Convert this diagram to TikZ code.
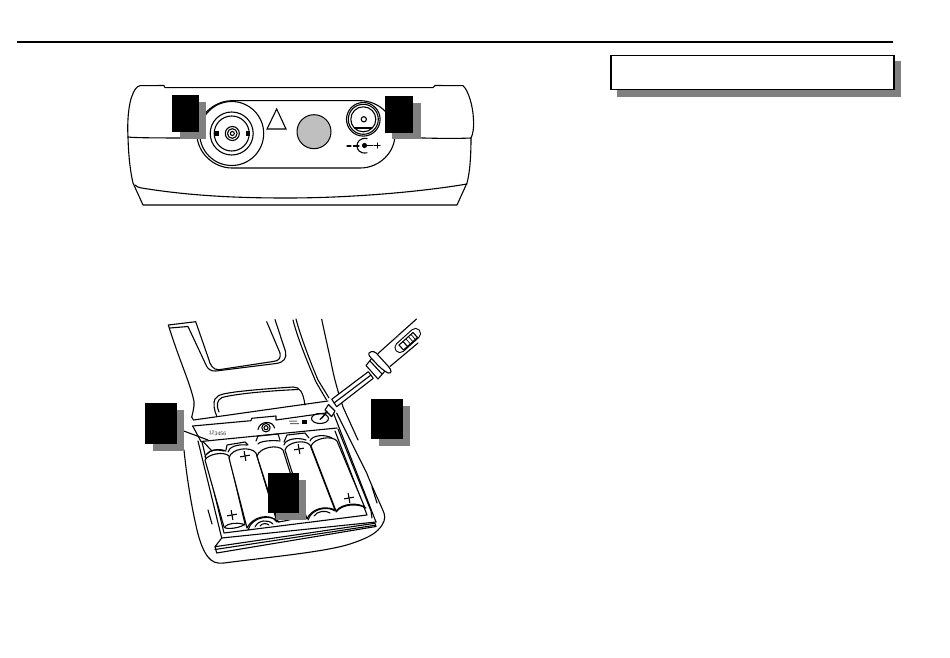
\documentclass[tikz,border=0pt]{standalone}
\usepackage{fontspec}
\setmainfont{Liberation Sans}
\definecolor{dropgray}{HTML}{808080}
\tikzset{
 ln/.style={draw=black,line width=1.1pt,line join=round,line cap=round,fill=none},
 thin ln/.style={draw=black,line width=0.7pt,line join=round,line cap=round,fill=none},
 wht/.style={draw=black,line width=1.1pt,line join=round,fill=white},
}
\newcommand{\plusmark}[2]{\draw[ln] (#1-4.5,#2+.8) -- (#1+4.5,#2-.8) (#1-.8,#2-4.5) -- (#1+.8,#2+4.5);}
\begin{document}
\begin{tikzpicture}[x=1pt,y=-1pt]
\useasboundingbox (0,0) rectangle (950,658);
\fill[white] (0,0) rectangle (950,658);
% header
\coordinate (ruleL) at (17,42); \coordinate (ruleR) at (893,42);
\draw[line width=1.3pt] (ruleL) -- (ruleR);
\fill[dropgray] (617,61.5) rectangle (901,97);
\node[draw=black,line width=1.5pt,fill=white,minimum width=283pt,minimum height=34pt,inner sep=0pt,anchor=north west] (titlebox) at (610,55) {};

% ---------- top view
\draw[ln] (164,85.5) -- (165,87.7) -- (433,87.7) -- (435,85.5) -- (463,85.7)
  .. controls (468,90) and (473,105) .. (473.5,120) .. controls (474,128) and (473,134) .. (471,138)
  .. controls (471,155) and (470,172) .. (467,183) -- (457,205)
  -- (143,205) -- (133,183)
  .. controls (130,170) and (128.5,155) .. (128,137)
  .. controls (127,120) and (129,103) .. (132,96) .. controls (134,90) and (137,86) .. (140,85.7) -- cycle;
\draw[ln] (128,137) .. controls (135,138) and (170,138) .. (197,138);
\draw[ln] (394,137) .. controls (420,138) and (450,139) .. (471,138);
\draw[ln] (135,185) .. controls (138,188) and (142,188) .. (148,189)
  .. controls (200,197) and (250,198) .. (287,198) .. controls (350,198) and (420,192) .. (467,184);
% panel
\draw[ln] (232,100.7) -- (360,100.7) .. controls (380,100.7) and (395,117) .. (395,134.5)
  .. controls (395,152) and (380,168) .. (360,168) -- (232,168)
  .. controls (213,168) and (197,152) .. (197,134.5) .. controls (197,117) and (213,100.7) .. (232,100.7);
\draw[ln] (231.7,133.5) circle[radius=32];
\draw[ln] (231.7,133.5) circle[radius=21.5];
\draw[ln] (231.7,133.5) circle[radius=17.5];
\draw[ln] (232.3,133.5) circle[radius=7];
\draw[ln] (232.3,133.5) circle[radius=4.8];
\draw[ln] (232.3,133.5) circle[radius=2];
\fill[black] (214,131) rectangle (218.5,136);
\fill[black] (245.5,131) rectangle (250,136);
\draw[line width=1.1pt,line join=miter] (267,129) -- (286,129) -- (276.7,109) -- cycle;
\node[circle,draw=black,line width=1pt,fill=black!25,minimum size=34pt,inner sep=0pt] (lamp) at (314,131.7) {};
\draw[ln] (363.3,119.3) circle[radius=16.8];
\draw[ln] (363.3,119.3) circle[radius=15];
\draw[ln] (363.3,119.3) circle[radius=12.5];
\draw[ln] (363.8,119.3) circle[radius=2.6];
\begin{scope}
\clip (363.3,119.3) circle[radius=12.5];
\fill[black] (350,127) rectangle (377,129.5);
\end{scope}
\draw[ln] (347,146) -- (351,146) (353.5,146) -- (359,146);
\draw[ln] (367,138.5) .. controls (360,137.5) and (357,142) .. (357,145.7) .. controls (357,150) and (360,154) .. (367,152.8);
\fill[black] (364.5,145.5) circle[radius=2.6];
\draw[ln] (364.5,145.5) -- (373,145.5);
\draw[ln] (374.5,145.5) -- (380,145.5) (377.3,143) -- (377.3,148);

% ---------- lid
\draw[ln] (191.7,417) .. controls (194,408) and (195,403) .. (193,397) .. controls (188,378) and (180,362) .. (168.3,325) -- (195.7,321.7)
  -- (208.3,358) .. controls (210,365) and (213,370) .. (219,369.7) -- (273,361.5) .. controls (279,361) and (281,358) .. (280,353) -- (266.7,321.7);
\draw[ln] (170,328) -- (188,326.5) -- (206.5,366) .. controls (208,369) and (211,371.5) .. (216,371) -- (276,363.5) .. controls (284,362.5) and (287,358) .. (285.5,351.5) -- (275,319.5);
\draw[ln] (293,320) .. controls (298,340) and (310,368) .. (316,382) -- (326.5,400);
\draw[ln] (296,319) .. controls (301,338) and (312,366) .. (318,380) -- (329,398);
\draw[ln] (321.7,319.3) .. controls (325,335) and (328,348) .. (331,362) .. controls (334,378) and (338,392) .. (343,407) -- (358,440);
% hinge
\draw[ln] (216.7,416) .. controls (214,410) and (213,403) .. (215,399) .. controls (218,394) and (226,393.5) .. (235,392) .. controls (260,389) and (280,388) .. (293,387) .. controls (300,387) and (303,392) .. (305,405);
\draw[ln] (219,412) .. controls (216,405) and (217,400) .. (222,397.5) .. controls (235,394) and (265,391) .. (298,389.5);
\draw[ln] (191.7,417) -- (193.5,420) -- (328,401);

% ---------- body
\draw[ln] (184,450) .. controls (186,470) and (190,500) .. (197,530) .. controls (200,543) and (204,552) .. (208,557)
  .. controls (212,562) and (217,564) .. (224,563) .. controls (270,557) and (325,552) .. (350,544)
  .. controls (362,540) and (372,536) .. (378,530) .. controls (384,524) and (386,518) .. (384,513)
  .. controls (380,503) and (372,487) .. (366.7,473) -- (336.7,413);
\draw[ln] (208,510) -- (212,524);
\draw[ln] (372,487) -- (377,503);
% tray
\draw[ln] (192.7,426) -- (251,420.7) -- (251.7,418.3) -- (276,416) -- (276,420) -- (333,412);
\draw[ln] (192.7,426) -- (201,441.5) -- (337,428);
\draw[ln] (333,412) -- (376,522);
\draw[ln] (198,441) -- (221.7,538) -- (376,522);
\draw[ln] (202,442) -- (224,533) -- (367,515) -- (335,431);
\draw[ln] (338,429) -- (371,511) -- (372,518);
\draw[ln] (215,546.7) -- (375,523.3) -- (376,526.5) -- (216.7,553) -- cycle;
\draw[ln] (215,549.5) -- (375,525.3);
\draw[ln] (221.7,538) -- (215,546.7);
% screw
\draw[ln] (258,429.5) .. controls (259,425) and (262,423) .. (266,422.5) .. controls (271,422) and (274,425) .. (274.5,428);
\draw[ln] (266,427.7) circle[radius=4.2];
\draw[ln] (266,427.7) circle[radius=2];
% label
\node[rotate=-6,font=\fontsize{5.3}{6}\selectfont,text=black!80,inner sep=0pt] (serial) at (217.5,433.5) {123456};
\fill[black!60] (289,420.5) rectangle +(8,1) (290,423) rectangle +(9,1);
\fill[black] (302,420) rectangle (307,424);
\draw[ln] (320,418.5) ellipse[x radius=8.5,y radius=5];
\coordinate (leadA) at (177,428.5); \coordinate (leadB) at (208,440);
\draw[ln] (leadA) -- (leadB);

% ---------- batteries
\draw[ln] (205,457) .. controls (206,452) and (216,447) .. (226,451);
\draw[ln] (207,454) .. controls (210,450) and (216,449) .. (224,451);
\draw[ln] (228,452) .. controls (229,447) and (237,444) .. (247,445);
\draw[ln] (258,444) .. controls (260,441) and (272,440) .. (280,441);
\draw[ln] (284,445) .. controls (285,439) and (298,437) .. (306,440);
\draw[ln] (310,441) .. controls (312,435) and (325,434) .. (332,438);
\draw[ln] (203,441.5) -- (212,451) (226,450) -- (227,445) -- (245,442) -- (248,445) (256,441) -- (258,436) -- (278,434) -- (280,440) (284,442) -- (287,435) -- (305,433) -- (309,438);
\draw[wht] (205,460) .. controls (208,454) and (224,451) .. (229,456) -- (245,524) .. controls (241,528) and (226,530) .. (224,527) -- cycle;
\draw[wht] (229,458) .. controls (231,448) and (251,446) .. (256,453) -- (277,522) .. controls (270,512) and (252,517) .. (247,528) -- cycle;
\draw[wht] (257,456) .. controls (260,447) and (278,444) .. (283,450) -- (303,513) .. controls (298,519) and (285,521) .. (278,522) -- cycle;
\draw[wht] (285,450) .. controls (287,442) and (305,439) .. (310,445) -- (335,510) .. controls (325,505) and (311,509) .. (307,519) -- cycle;
\draw[wht] (311,446) .. controls (314,438) and (332,435) .. (337,441) -- (365,508) .. controls (360,502) and (342,503) .. (336,511) -- cycle;
\draw[ln] (225,527) .. controls (227,523) and (240,522) .. (245,525);
\draw[ln] (248,530) .. controls (252,516) and (272,514) .. (279,522);
\draw[ln] (255,527) .. controls (258,520) and (268,519) .. (273,524);
\draw[ln] (260,526) .. controls (262,523) and (267,523) .. (269,525);
\draw[ln] (308,520) .. controls (312,508) and (328,506) .. (335,511);
\draw[ln] (314,516) .. controls (317,511) and (326,510) .. (330,513);
\draw[ln] (336,512) .. controls (342,504) and (358,503) .. (366,508);
\plusmark{245}{456}
\plusmark{299}{449}
\plusmark{232}{515}
\plusmark{349}{498}

% ---------- probe
\draw[wht] (331.7,399.3) -- (368.3,371.7) -- (373.3,378.3) -- (336.7,406.7) -- cycle;
\draw[ln] (334,403) -- (371,375);
\draw[wht] (325,410) -- (328.5,404.5) -- (335,411) -- (331.7,416.7) -- cycle;
\draw[ln] (322,418) -- (327,411);
\draw[ln] (320,419.5) -- (325.5,414);
\draw[wht] (366,365.5) -- (372,358) -- (385,371) -- (378,379) -- cycle;
\draw[ln] (370,361) -- (382,374);
\draw[wht] (369,353) .. controls (372,350) and (376,352) .. (378,355) -- (388,366) .. controls (392,370) and (392,374) .. (388,373) .. controls (384,371) and (378,366) .. (374,361) .. controls (370,357) and (368,355) .. (369,353) -- cycle;
\draw[ln] (378,353.5) -- (416.5,319) (390,366.5) -- (418,343);
% slot in the handle
\draw[black,line width=11.2pt,line cap=round] (400,347.5) -- (415.5,333.5);
\draw[white,line width=9pt,line cap=round] (400,347.5) -- (415.5,333.5);
\draw[ln,fill=white] (399,345) -- (403,341.5) -- (407.5,346.5) -- (403.5,350) -- cycle;
\draw[ln] (403,341.5) -- (413,332.5) -- (417.5,337.5) -- (407.5,346.5);
\draw[thin ln] (406,339) -- (410.5,344) (408.5,336.7) -- (413,341.7) (411,334.5) -- (415.5,339.5);
\draw[thin ln,draw=black!55] (394.5,339.5) -- (399,335.5);

% ---------- callout tags
\fill[dropgray] (180,102) rectangle (206,139.3);
\fill[black] (172,94.7) rectangle (199,131.7);
\fill[dropgray] (392,103.3) rectangle (420.7,139.3);
\fill[black] (384.7,95.7) rectangle (413.3,132.7);
\fill[dropgray] (153,410) rectangle (184,451);
\fill[black] (145,403) rectangle (177,444);
\fill[dropgray] (379,406) rectangle (410,446);
\fill[black] (371,399) rectangle (402.7,438.5);
\fill[dropgray] (276,480) rectangle (306,520);
\fill[black] (268,472.7) rectangle (299.3,512.7);
\end{tikzpicture}
\end{document}
